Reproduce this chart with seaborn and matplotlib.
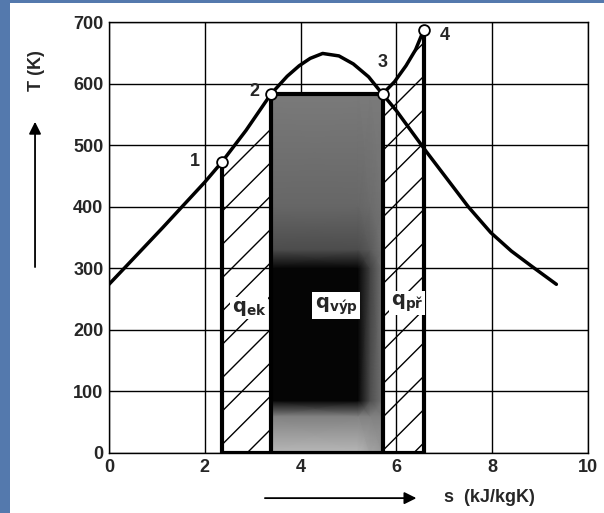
import matplotlib
matplotlib.use('Agg')
from matplotlib import pyplot as plt
from matplotlib.patches import Rectangle, FancyArrowPatch
import numpy as np
import seaborn as sns

# saturation dome
dome_s = [0.0, 0.5, 1.12, 2.0, 2.35, 2.86, 3.38, 3.72, 3.97, 4.2, 4.46, 4.8, 5.1, 5.42, 5.71,
          6.0, 6.3, 6.62, 7.5, 7.97, 8.4, 8.83, 9.34]
dome_T = [274, 315, 366, 440, 472, 524, 583, 612, 629, 641, 649, 645, 632, 611, 583,
          556, 524, 490, 400, 358, 328, 303, 274]
# superheating 3 -> 4
superheat_s = [5.71, 5.96, 6.2, 6.4, 6.57]
superheat_T = [583, 603, 629, 655, 687]
# economiser 1 -> 2
econ_s = [2.35, 2.86, 3.38]
econ_T = [472, 524, 583]
# state points
state_s = [2.35, 3.38, 5.71, 6.57]
state_T = [472, 583, 583, 687]
state_labels = ['1', '2', '3', '4']
evap_s = [3.38, 5.71]
evap_T = 583
x_ticks = [0, 2, 4, 6, 8, 10]
y_ticks = [0, 100, 200, 300, 400, 500, 600, 700]

# halftone look of the evaporation area (grey level, 0 = black)
shade_s = [3.38, 5.2, 5.45, 5.71]
shade_T = [0, 60, 85, 300, 330, 400, 583]
shade = [[0.72, 0.72, 0.65, 0.60],
         [0.50, 0.50, 0.50, 0.50],
         [0.02, 0.02, 0.30, 0.45],
         [0.02, 0.02, 0.25, 0.45],
         [0.30, 0.30, 0.35, 0.45],
         [0.40, 0.40, 0.42, 0.45],
         [0.48, 0.48, 0.48, 0.48]]

sns.set_style('white')
plt.rcParams['font.family'] = ['Liberation Sans', 'DejaVu Sans']
plt.rcParams['hatch.linewidth'] = 1.0

fig = plt.figure(figsize=(6.04, 5.13), dpi=100)
fig.patch.set_facecolor('#5479ad')
fig.add_artist(Rectangle((10 / 604, 0), 594 / 604, 510 / 513, transform=fig.transFigure,
                         facecolor='white', edgecolor='none', zorder=-5))
ax = fig.add_axes([0.1805, 0.117, 0.793, 0.840])
ax.set_facecolor('white')

# hatched areas
ax.fill_between(econ_s, 0, econ_T, facecolor='none', edgecolor='black', hatch='/', linewidth=0, zorder=1)
ax.fill_between(superheat_s, 0, superheat_T, facecolor='none', edgecolor='black', hatch='/', linewidth=0, zorder=1)

# evaporation rectangle
ax.pcolormesh(shade_s, shade_T, np.array(shade), shading='gouraud', cmap='gray', vmin=0, vmax=1, zorder=2)
ax.plot([evap_s[0], evap_s[0], evap_s[1], evap_s[1]], [0, evap_T, evap_T, 0], color='black', lw=3, zorder=4)

# bold boundary lines
ax.plot([state_s[0], state_s[0]], [0, state_T[0]], color='black', lw=3, zorder=4)
ax.plot([state_s[3], state_s[3]], [0, state_T[3]], color='black', lw=3, zorder=4)
ax.plot([state_s[0], state_s[3]], [0, 0], color='black', lw=3, zorder=4)

sns.lineplot(x=dome_s, y=dome_T, sort=False, color='black', lw=2.5, ax=ax, zorder=5)
sns.lineplot(x=superheat_s, y=superheat_T, sort=False, color='black', lw=2.5, ax=ax, zorder=5)
sns.scatterplot(x=state_s, y=state_T, s=60, color='white', edgecolor='black', linewidth=1.3, ax=ax, zorder=6)

offsets = [(-19, 1), (-12, 2), (0, 23), (15, -4)]
for s, T, lab, off in zip(state_s, state_T, state_labels, offsets):
    ax.annotate(lab, (s, T), xytext=off, textcoords='offset points', ha='center', va='center',
                fontsize=13, fontweight='bold', zorder=7)

box = dict(facecolor='white', edgecolor='none', pad=1.0)
ax.text(2.92, 235, r'$\mathbf{q}_{\mathbf{ek}}$', ha='center', va='center', fontsize=14, bbox=box, zorder=7)
ax.text(4.74, 239, r'$\mathbf{q}_{\mathbf{výp}}$', ha='center', va='center', fontsize=14,
        bbox=dict(facecolor='white', edgecolor='none', pad=2.0), zorder=7)
ax.text(6.22, 243, r'$\mathbf{q}_{\mathbf{př}}$', ha='center', va='center', fontsize=14, bbox=box, zorder=7)

ax.set_xlim(0, 10)
ax.set_ylim(0, 700)
ax.set_xticks(x_ticks)
ax.set_yticks(y_ticks)
ax.grid(True, color='black', lw=1.0)
ax.set_axisbelow(True)
ax.tick_params(length=0, labelsize=13, pad=4)
for lab in ax.get_xticklabels() + ax.get_yticklabels():
    lab.set_fontweight('bold')
for sp in ax.spines.values():
    sp.set_color('black')
    sp.set_linewidth(1.0)
ax.set_xlabel('')
ax.set_ylabel('')

# axis titles with arrows
fig.text(0.061, 0.862, 'T (K)', rotation=90, ha='center', va='center', fontsize=13, fontweight='bold')
fig.text(0.811, 0.031, 's  (kJ/kgK)', ha='center', va='center', fontsize=13, fontweight='bold')
fig.add_artist(FancyArrowPatch((0.058, 0.474), (0.058, 0.768), transform=fig.transFigure,
                               arrowstyle='-|>', mutation_scale=18, lw=1.3, color='black'))
fig.add_artist(FancyArrowPatch((0.434, 0.029), (0.694, 0.029), transform=fig.transFigure,
                               arrowstyle='-|>', mutation_scale=18, lw=1.3, color='black'))

fig.savefig('out.png', dpi=100, facecolor=fig.get_facecolor())
